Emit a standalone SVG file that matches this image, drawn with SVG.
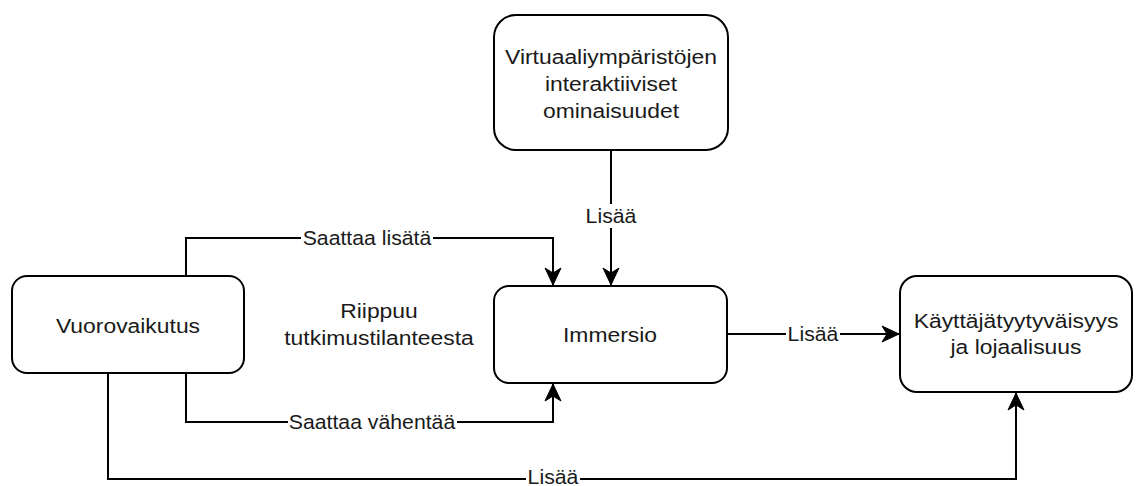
<svg xmlns="http://www.w3.org/2000/svg" width="1139" height="486" viewBox="0 0 1139 486">
<style>
.box{fill:#fff;stroke:#000;stroke-width:2}
.t{font-family:"Liberation Sans",Arial,sans-serif;font-size:21px;fill:#1a1a1a;text-anchor:middle}
.e{fill:none;stroke:#000;stroke-width:2}
.lb{font-family:"Liberation Sans",Arial,sans-serif;font-size:19.5px;fill:#1a1a1a;text-anchor:middle}
.bg{fill:#fff}
</style>
<defs>
<marker id="arr" markerUnits="userSpaceOnUse" markerWidth="20" markerHeight="20" viewBox="-18 -9 20 18" refX="0" refY="0" orient="auto">
<path d="M0,0 L-17,-8 L-12,0 L-17,8 Z" fill="#000" stroke="#000" stroke-width="1"/>
</marker>
</defs>
<rect width="1139" height="486" fill="#fff"/>
<g id="connectors">
<path class="e" d="M611,150 L611,285" marker-end="url(#arr)"/>
<path class="e" d="M186,276 L186,238 L553,238 L553,285" marker-end="url(#arr)"/>
<path class="e" d="M186,373 L186,422 L553,422 L553,384" marker-end="url(#arr)"/>
<path class="e" d="M727,334 L899,334" marker-end="url(#arr)"/>
<path class="e" d="M108,373 L108,479 L1016,479 L1016,393" marker-end="url(#arr)"/>
<rect class="bg" x="584" y="204" width="54" height="24"/>
<text class="lb" transform="translate(611,223) scale(1.09,1)">Lisää</text>
<rect class="bg" x="301" y="226" width="132" height="24"/>
<text class="lb" transform="translate(367,245) scale(1.09,1)">Saattaa lisätä</text>
<rect class="bg" x="288" y="410" width="169" height="24"/>
<text class="lb" transform="translate(372,429) scale(1.09,1)">Saattaa vähentää</text>
<rect class="bg" x="786" y="322" width="54" height="24"/>
<text class="lb" transform="translate(813,341) scale(1.09,1)">Lisää</text>
<rect class="bg" x="526" y="467" width="54" height="19"/>
<text class="lb" transform="translate(553,484) scale(1.09,1)">Lisää</text>
</g>
<g id="node-virtual">
<rect class="box" x="494" y="15" width="234" height="135" rx="22" ry="22"/>
<text class="t" transform="translate(611,64) scale(1.09,1)">Virtuaaliympäristöjen</text>
<text class="t" transform="translate(611,91) scale(1.09,1)">interaktiiviset</text>
<text class="t" transform="translate(611,118) scale(1.09,1)">ominaisuudet</text>
</g>
<g id="node-vuoro">
<rect class="box" x="12" y="276" width="232" height="97" rx="15" ry="15"/>
<text class="t" transform="translate(128,333) scale(1.09,1)">Vuorovaikutus</text>
</g>
<g id="node-immersio">
<rect class="box" x="494" y="286" width="233" height="97" rx="15" ry="15"/>
<text class="t" transform="translate(610,342) scale(1.09,1)">Immersio</text>
</g>
<g id="node-kayttaja">
<rect class="box" x="900" y="276" width="232" height="116" rx="17" ry="17"/>
<text class="t" transform="translate(1016,328) scale(1.09,1)">Käyttäjätyytyväisyys</text>
<text class="t" transform="translate(1016,354) scale(1.09,1)">ja lojaalisuus</text>
</g>
<g id="node-riippuu">
<text class="t" transform="translate(379,318) scale(1.09,1)">Riippuu</text>
<text class="t" transform="translate(379,345) scale(1.09,1)">tutkimustilanteesta</text>
</g>
</svg>
